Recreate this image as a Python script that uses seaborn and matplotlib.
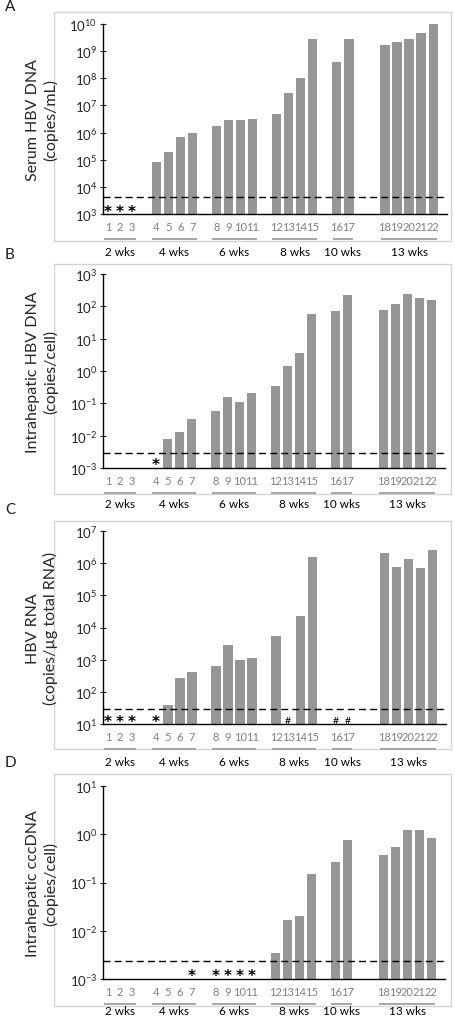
import pandas as pd
import matplotlib
matplotlib.use("Agg")
import matplotlib.pyplot as plt
import matplotlib.transforms as mtransforms
from matplotlib.patches import Rectangle
from matplotlib.ticker import LogLocator, NullLocator
import seaborn as sns

# ---- data ----
SAMPLES = list(range(1, 23))
WEEK_LABELS = ["2 wks", "4 wks", "6 wks", "8 wks", "10 wks", "13 wks"]
GROUP_SIZES = [3, 4, 4, 4, 2, 5]

SERUM_DNA = [None, None, None, 8e4, 2e5, 6.7e5, 1e6, 1.8e6, 3e6, 3e6, 3.2e6,
             4.7e6, 2.8e7, 1.05e8, 2.8e9, 4.1e8, 2.8e9, 1.65e9, 2.1e9, 2.8e9, 4.7e9, 9.8e9]
SERUM_LOD = 4.2e3
SERUM_STARS = [1, 2, 3]

LIVER_DNA = [None, None, None, None, 7.8e-3, 1.3e-2, 3.3e-2, 5.8e-2, 0.158, 0.112, 0.204,
             0.336, 1.39, 3.6, 58, 72, 219, 75, 118, 234, 186, 161]
LIVER_LOD = 2.9e-3
LIVER_STARS = [4]

HBV_RNA = [None, None, None, None, 38, 275, 400, 635, 2930, 955, 1120,
           5400, None, 2.2e4, 1.55e6, None, None, 2.0e6, 7.6e5, 1.38e6, 7.2e5, 2.5e6]
RNA_LOD = 30
RNA_STARS = [1, 2, 3, 4]
RNA_HASHES = [13, 16, 17]

CCC_DNA = [None] * 11 + [3.5e-3, 0.017, 0.020, 0.148, 0.26, 0.75, 0.38, 0.55, 1.2, 1.25, 0.84]
CCC_LOD = 2.4e-3
CCC_STARS = [7, 8, 9, 10, 11]

W, H = 456, 1020
BAR_COLOR = "#969696"

sns.set_style("white")
plt.rcParams["font.family"] = ["Lato", "DejaVu Sans"]
plt.rcParams["axes.unicode_minus"] = False

# one empty slot between week groups, two before the 13 wks group
GAPS = [0, 1, 1, 1, 1, 2]
positions = []
group_spans = []
pos = 0
for size, gap in zip(GROUP_SIZES, GAPS):
    pos += gap
    group_spans.append((pos, pos + size - 1))
    for _ in range(size):
        positions.append(pos)
        pos += 1

panels = [
    dict(letter="A", letter_y=7, ylabel="Serum HBV DNA\n(copies/mL)", values=SERUM_DNA,
         lod=SERUM_LOD, ylim=(1e3, 1e10), stars=SERUM_STARS, hashes=[],
         ax_px=(103, 25, 447, 215), box_px=(54, 13, 451, 242), week_dy=37),
    dict(letter="B", letter_y=255, ylabel="Intrahepatic HBV DNA\n(copies/cell)", values=LIVER_DNA,
         lod=LIVER_LOD, ylim=(1e-3, 1e3), stars=LIVER_STARS, hashes=[],
         ax_px=(103, 275, 445, 469), box_px=(54, 265, 451, 495), week_dy=36),
    dict(letter="C", letter_y=510, ylabel="HBV RNA\n(copies/\u00b5g total RNA)", values=HBV_RNA,
         lod=RNA_LOD, ylim=(1e1, 1e7), stars=RNA_STARS, hashes=RNA_HASHES,
         ax_px=(103, 532, 446, 725), box_px=(54, 522, 451, 750), week_dy=37),
    dict(letter="D", letter_y=763, ylabel="Intrahepatic cccDNA\n(copies/cell)", values=CCC_DNA,
         lod=CCC_LOD, ylim=(1e-3, 1e1), stars=CCC_STARS, hashes=[],
         ax_px=(103, 787, 445, 980), box_px=(54, 775, 451, 1007), week_dy=32),
]


def draw_panel(fig, spec):
    """Draws one log-scale bar panel with its frame, markers and week groups."""
    l, t, r, b = spec["ax_px"]
    ax_h = b - t
    bl, bt, br, bb = spec["box_px"]
    fig.add_artist(Rectangle((bl / W, 1 - bb / H), (br - bl) / W, (bb - bt) / H,
                             transform=fig.transFigure, fill=False,
                             edgecolor="#d4d4d4", lw=1.0, zorder=0))

    ax = fig.add_axes([l / W, 1 - b / H, (r - l) / W, ax_h / H])
    ax.set_facecolor("none")
    df = pd.DataFrame({"pos": positions, "value": spec["values"]}).dropna()
    sns.barplot(data=df, x="pos", y="value", native_scale=True, log_scale=(False, True),
                color=BAR_COLOR, saturation=1, width=0.77, errorbar=None,
                linewidth=0, ax=ax)

    ax.set_yscale("log")
    ax.set_ylim(*spec["ylim"])
    ax.set_xlim(-0.42, 28.15)
    ax.yaxis.set_major_locator(LogLocator(base=10, subs=(1.0,), numticks=20))
    ax.yaxis.set_minor_locator(NullLocator())
    ax.set_xticks(positions, labels=[str(s) for s in SAMPLES])
    ax.set_xlabel("")
    ax.set_ylabel(spec["ylabel"], fontsize=11.5, linespacing=1.25)
    ax.yaxis.set_label_coords(-0.13, 0.5)

    sns.despine(ax=ax)
    for side in ["left", "bottom"]:
        ax.spines[side].set_color("black")
        ax.spines[side].set_linewidth(1.0)
    ax.tick_params(axis="x", length=0, pad=5, labelsize=8, labelcolor="#7f7f7f")
    ax.tick_params(axis="y", left=True, direction="inout", length=4, width=0.8,
                   pad=2, labelsize=9.5, labelcolor="#262626")

    ax.axhline(spec["lod"], color="black", lw=1.0, ls=(0, (5, 3)), zorder=3)

    trans = mtransforms.blended_transform_factory(ax.transData, ax.transAxes)
    for s in spec["stars"]:
        ax.text(positions[s - 1], -1.5 / ax_h, "*", transform=trans, ha="center",
                va="baseline", fontsize=11, fontweight="bold",
                family="DejaVu Sans", color="black")
    for s in spec["hashes"]:
        ax.text(positions[s - 1], 1.5 / ax_h, "#", transform=trans, ha="center",
                va="baseline", fontsize=7.5, color="black")

    for (first, last), week in zip(group_spans, WEEK_LABELS):
        ax.plot([first - 0.35, last + 0.35], [-25 / ax_h] * 2, transform=trans,
                clip_on=False, color="#a6a6a6", lw=1.4, solid_capstyle="butt")
        ax.text((first + last) / 2, -spec["week_dy"] / ax_h, week, transform=trans,
                ha="center", va="center", fontsize=8.5, color="black")

    fig.text(5 / W, 1 - spec["letter_y"] / H, spec["letter"], fontsize=11,
             ha="left", va="center", color="#1a1a1a")
    return ax


fig = plt.figure(figsize=(W / 100, H / 100), dpi=100)
for spec in panels:
    draw_panel(fig, spec)

fig.savefig("out.png", dpi=100)
plt.close(fig)
